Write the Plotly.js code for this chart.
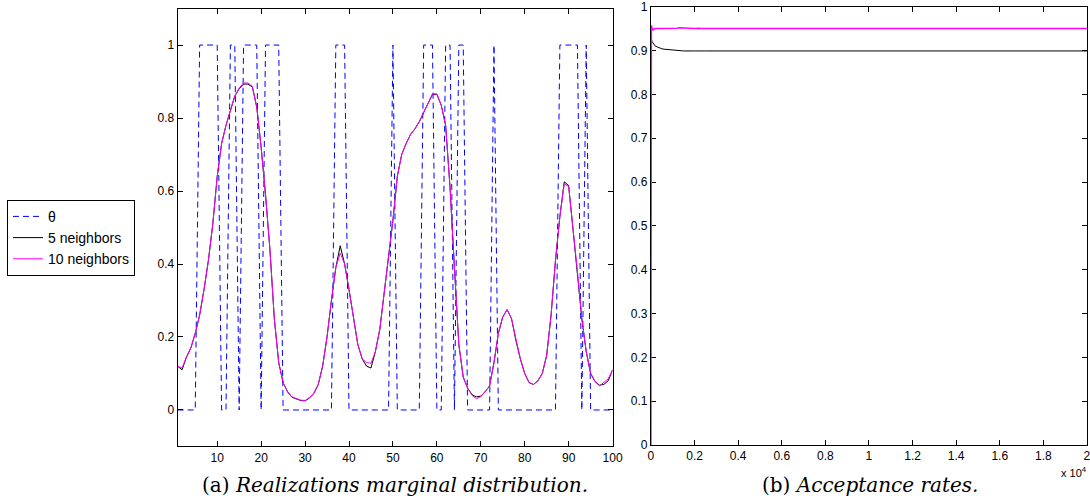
<!DOCTYPE html>
<html>
<head>
<meta charset="utf-8">
<script src="https://cdn.plot.ly/plotly-3.0.1.min.js"></script>
<style>html,body{margin:0;padding:0;background:#fff;}#chart{width:1090px;height:502px;}</style>
</head>
<body>
<div id="chart"></div>
<script>
// ---- Panel (a): realizations marginal distribution ----
var sites = [];
for (var i = 1; i <= 100; i++) sites.push(i);

var theta = [0,0,0,0,0,1,1,1,1,1, 0,0,1,1,0,1,1,1,1,0,
             1,1,1,1,0,0,0,0,0,0, 0,0,0,0,0,0,1,1,1,0,
             0,0,0,0,0,0,0,0,0,1, 0,0,0,0,0,0,1,1,1,0,
             0,1,1,0,1,1,0,0,0,0, 0,0,1,0,0,0,0,0,0,0,
             0,0,0,0,0,0,0,1,1,1, 1,1,0,1,0,0,0,0,0,0];

var marg5 = [0.12,0.11,0.145,0.17,0.21,0.26,0.33,0.41,0.51,0.64,
             0.73,0.78,0.82,0.86,0.88,0.893,0.893,0.885,0.83,0.72,
             0.59,0.44,0.25,0.13,0.075,0.05,0.035,0.03,0.026,0.025,
             0.033,0.045,0.07,0.12,0.20,0.30,0.39,0.45,0.40,0.33,
             0.25,0.18,0.14,0.12,0.115,0.16,0.22,0.32,0.42,0.52,
             0.64,0.70,0.73,0.755,0.77,0.79,0.815,0.84,0.865,0.865,
             0.835,0.78,0.61,0.39,0.18,0.09,0.06,0.042,0.036,0.038,
             0.05,0.066,0.13,0.21,0.255,0.275,0.25,0.19,0.14,0.10,
             0.075,0.07,0.08,0.10,0.15,0.26,0.41,0.53,0.625,0.615,
             0.50,0.38,0.25,0.16,0.10,0.078,0.068,0.07,0.08,0.11];

var marg10 = [0.12,0.115,0.145,0.17,0.21,0.26,0.33,0.41,0.51,0.64,
              0.73,0.78,0.82,0.86,0.882,0.896,0.896,0.887,0.83,0.72,
              0.59,0.44,0.25,0.13,0.075,0.05,0.036,0.031,0.027,0.026,
              0.034,0.046,0.07,0.12,0.20,0.30,0.39,0.43,0.40,0.33,
              0.25,0.18,0.14,0.13,0.128,0.16,0.22,0.32,0.42,0.52,
              0.64,0.70,0.73,0.755,0.77,0.79,0.815,0.84,0.866,0.866,
              0.835,0.78,0.61,0.39,0.18,0.09,0.06,0.04,0.031,0.036,
              0.05,0.066,0.13,0.21,0.255,0.275,0.25,0.19,0.14,0.10,
              0.075,0.07,0.08,0.10,0.15,0.26,0.41,0.53,0.62,0.612,
              0.50,0.38,0.25,0.16,0.10,0.078,0.066,0.075,0.085,0.11];

var xTicksA = [10,20,30,40,50,60,70,80,90,100];
var yTicksA = [0,0.2,0.4,0.6,0.8,1];
var yTickTextA = ['0','0.2','0.4','0.6','0.8','1'];

// ---- Panel (b): acceptance rates ----
var iters = [0,20,50,100,150,200,300,400,500,600,800,1000,1200,1300,1500,2000,2200,2300,2500,3000,4000,4100,4200,5000,6000,6300,6500,8000,10000,12000,14000,16000,18000,20000];
var rate5 = [0.93,0.925,0.92,0.917,0.913,0.91,0.908,0.905,0.904,0.903,0.902,0.901,0.9,0.9,0.899,0.899,0.9,0.899,0.899,0.899,0.899,0.9,0.899,0.899,0.899,0.9,0.899,0.899,0.899,0.899,0.899,0.899,0.899,0.899];
var rate10 = [0,0.957,0.952,0.947,0.949,0.95,0.95,0.95,0.951,0.951,0.951,0.951,0.951,0.952,0.951,0.95,0.951,0.95,0.95,0.95,0.95,0.95,0.95,0.95,0.95,0.95,0.95,0.95,0.95,0.95,0.95,0.95,0.95,0.95];

var xTicksB = [0,2000,4000,6000,8000,10000,12000,14000,16000,18000,20000];
var xTickTextB = ['0','0.2','0.4','0.6','0.8','1','1.2','1.4','1.6','1.8','2'];
var yTicksB = [0,0.1,0.2,0.3,0.4,0.5,0.6,0.7,0.8,0.9,1];
var yTickTextB = ['0','0.1','0.2','0.3','0.4','0.5','0.6','0.7','0.8','0.9','1'];

var traces = [
  {x: sites, y: theta, type:'scatter', mode:'lines', name:'θ',
   line:{color:'#0000ff', width:1, dash:'6px,4px'}, xaxis:'x', yaxis:'y'},
  {x: sites, y: marg5, type:'scatter', mode:'lines', name:'5 neighbors',
   line:{color:'#000000', width:1}, xaxis:'x', yaxis:'y'},
  {x: sites, y: marg10, type:'scatter', mode:'lines', name:'10 neighbors',
   line:{color:'#ff00ff', width:1}, xaxis:'x', yaxis:'y'},
  {x: iters, y: rate5, type:'scatter', mode:'lines', showlegend:false,
   line:{color:'#000000', width:1}, xaxis:'x2', yaxis:'y2'},
  {x: iters, y: rate10, type:'scatter', mode:'lines', showlegend:false,
   line:{color:'#ff00ff', width:1.5}, xaxis:'x2', yaxis:'y2'}
];

var axCommon = {showline:true, linecolor:'#000', linewidth:1, mirror:'ticks',
  ticks:'inside', ticklen:5, tickcolor:'#000', tickwidth:1,
  showgrid:false, zeroline:false, ticklabeloverflow:'allow',
  tickfont:{family:'Liberation Sans, Arial, sans-serif', size:12, color:'#000'}};

function ax(extra){ var o = {}; for (var k in axCommon) o[k]=axCommon[k]; for (var k in extra) o[k]=extra[k]; return o; }

var layout = {
  width:1090, height:502,
  margin:{l:0, r:0, t:0, b:0},
  paper_bgcolor:'#fff', plot_bgcolor:'#fff',
  showlegend:true,
  legend:{x:0.0064, y:0.602, xanchor:'left', yanchor:'top',
    bordercolor:'#000', borderwidth:1, bgcolor:'#fff',
    font:{family:'Liberation Sans, Arial, sans-serif', size:14, color:'#000'},
    tracegroupgap:0},
  xaxis: ax({domain:[0.163,0.562], range:[1,100], tickmode:'array', tickvals:xTicksA, anchor:'y'}),
  yaxis: ax({domain:[0.1106,0.983], range:[-0.1,1.1], tickmode:'array', tickvals:yTicksA, ticktext:yTickTextA, anchor:'x'}),
  xaxis2: ax({domain:[0.5972,0.9972], range:[0,20000], tickmode:'array', tickvals:xTicksB, ticktext:xTickTextB, anchor:'y2'}),
  yaxis2: ax({domain:[0.1135,0.9867], range:[0,1], tickmode:'array', tickvals:yTicksB, ticktext:yTickTextB, anchor:'x2', layer:'below traces'}),
  annotations:[
    {xref:'paper', yref:'paper', x:0.3625, y:0.005, xanchor:'center', yanchor:'bottom', showarrow:false,
     text:'(a) <i>Realizations marginal distribution.</i>',
     font:{family:'DejaVu Serif, Liberation Serif, serif', size:20, color:'#000'}},
    {xref:'paper', yref:'paper', x:0.798, y:0.005, xanchor:'center', yanchor:'bottom', showarrow:false,
     text:'(b) <i>Acceptance rates.</i>',
     font:{family:'DejaVu Serif, Liberation Serif, serif', size:20, color:'#000'}},
    {xref:'paper', yref:'paper', x:0.9995, y:0.077, xanchor:'right', yanchor:'top', showarrow:false,
     text:'x 10<sup>4</sup>',
     font:{family:'Liberation Sans, Arial, sans-serif', size:11, color:'#000'}}
  ]
};

Plotly.newPlot('chart', traces, layout, {staticPlot:true, displayModeBar:false});
</script>
</body>
</html>
